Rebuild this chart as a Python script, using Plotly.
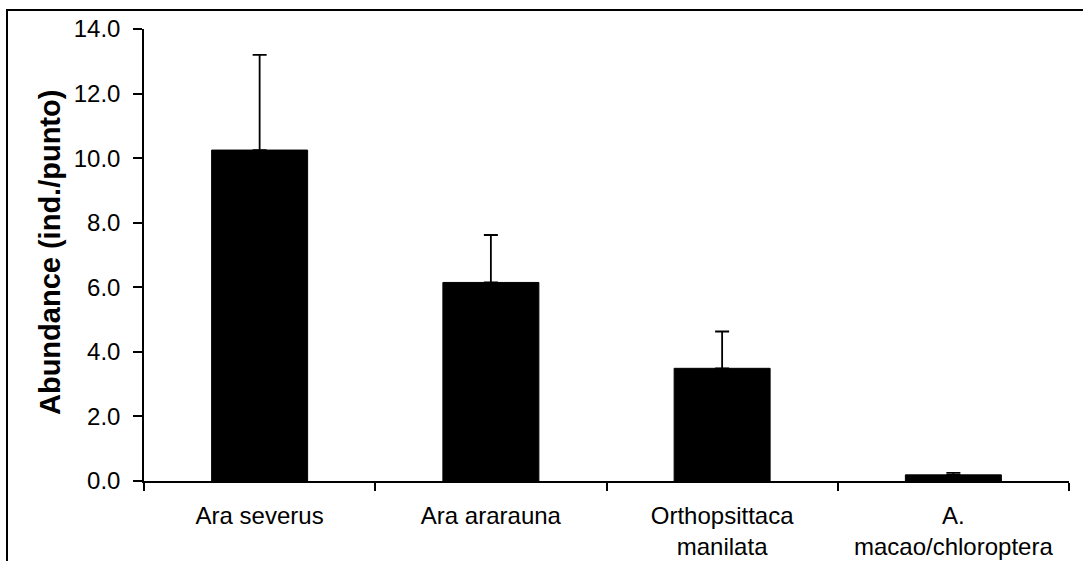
import plotly.graph_objects as go

# Mean abundance per species with the upper standard error
species = ["Ara severus", "Ara ararauna", "Orthopsittaca<br>manilata", "A.<br>macao/chloroptera"]
abundance = [10.25, 6.15, 3.49, 0.19]
error_up = [2.95, 1.47, 1.14, 0.06]
y_ticks = [0, 2, 4, 6, 8, 10, 12, 14]

W, H = 1083, 561
L, R, T, B = 144, 14, 29, 80
pw, ph = W - L - R, H - T - B

def px_x(x):
    return (x - L) / pw

def px_y(y):
    return (H - B - y) / ph

fig = go.Figure()
fig.add_trace(go.Bar(
    x=species,
    y=abundance,
    width=0.415,
    marker=dict(color="black", line=dict(color="black", width=1)),
    error_y=dict(type="data", symmetric=False, array=error_up,
                 arrayminus=[0] * len(error_up),
                 color="black", thickness=1.8, width=7),
))

font_family = "Liberation Sans, Arial, sans-serif"

fig.update_layout(
    width=W, height=H,
    margin=dict(l=L, r=R, t=T, b=B, autoexpand=False),
    paper_bgcolor="white", plot_bgcolor="white",
    showlegend=False,
    font=dict(family=font_family, color="black", size=24),
    xaxis=dict(
        type="category", range=[-0.5, 3.5],
        showline=True, linecolor="black", linewidth=1.5,
        ticks="outside", tickson="boundaries", ticklen=8, tickwidth=1.5,
        tickcolor="black", showgrid=False, zeroline=False,
        tickfont=dict(size=24, family=font_family),
        ticklabelstandoff=12,
    ),
    yaxis=dict(
        range=[0, 14], tickvals=y_ticks, tickformat=".1f",
        showline=True, linecolor="black", linewidth=1.5,
        ticks="outside", ticklen=9, tickwidth=1.5, tickcolor="black",
        showgrid=False, zeroline=False,
        tickfont=dict(size=24, family=font_family),
        ticklabelstandoff=8,
    ),
    annotations=[dict(
        text="<b>Abundance (ind./punto)</b>",
        xref="paper", yref="paper",
        x=px_x(50), y=px_y(253),
        xanchor="center", yanchor="middle",
        textangle=-90, showarrow=False,
        font=dict(size=29, family=font_family, color="black"),
    )],
    shapes=[dict(
        type="rect", xref="paper", yref="paper",
        x0=px_x(7), y0=px_y(10), x1=px_x(1095), y1=px_y(575),
        line=dict(color="black", width=2), fillcolor="rgba(0,0,0,0)",
        layer="above",
    )],
)

fig.write_html("out.html")
